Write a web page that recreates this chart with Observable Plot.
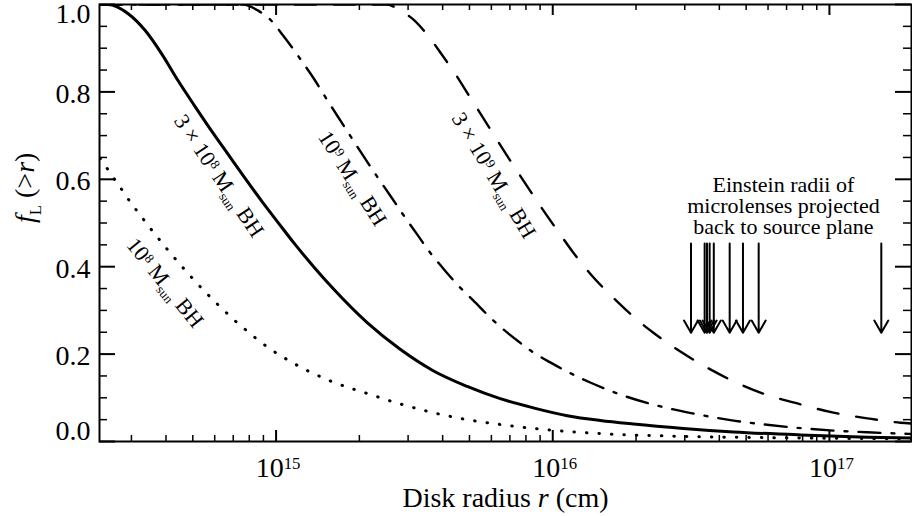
<!DOCTYPE html>
<html><head><meta charset="utf-8">
<script src="https://cdn.jsdelivr.net/npm/d3@7"></script>
<script src="https://cdn.jsdelivr.net/npm/@observablehq/plot@0.6"></script>
<style>body{margin:0;background:#fff;} svg{display:block;}</style>
</head><body><div id="chart"></div>
<script>
// ---- Data (r in cm, f_L(>r)) ----
const r_1e8 = [2.31e14, 2.45e14, 2.62e14, 2.80e14, 3.01e14, 3.22e14, 3.44e14, 3.71e14, 4.04e14, 4.39e14, 4.77e14, 5.18e14, 5.63e14, 6.12e14, 6.71e14, 7.29e14, 7.92e14, 8.61e14, 9.36e14, 1.034e15, 1.143e15, 1.252e15, 1.361e15, 1.607e15, 2.134e15, 2.809e15, 3.697e15, 4.907e15, 6.457e15, 8.503e15, 1.128e16, 1.614e16, 3.416e16, 7.854e16, 1.996e17];
const f_1e8 = [0.648, 0.625, 0.598, 0.572, 0.543, 0.519, 0.495, 0.469, 0.440, 0.413, 0.387, 0.362, 0.338, 0.315, 0.291, 0.270, 0.251, 0.232, 0.215, 0.197, 0.181, 0.167, 0.156, 0.136, 0.110, 0.086, 0.066, 0.050, 0.039, 0.030, 0.023, 0.017, 0.011, 0.008, 0.006];

const r_3e8 = [2.31e14, 2.47e14, 2.92e14, 3.36e14, 3.87e14, 4.42e14, 5.09e14, 5.87e14, 6.71e14, 7.73e14, 8.90e14, 1.017e15, 1.171e15, 1.384e15, 1.607e15, 2.134e15, 2.809e15, 3.697e15, 4.907e15, 6.457e15, 8.503e15, 1.128e16, 1.485e16, 1.955e16, 2.965e16, 4.496e16, 7.854e16, 1.372e17, 1.996e17];
const f_3e8 = [1.0, 1.0, 0.979, 0.941, 0.886, 0.826, 0.767, 0.709, 0.657, 0.602, 0.549, 0.501, 0.451, 0.396, 0.350, 0.272, 0.211, 0.162, 0.126, 0.098, 0.077, 0.059, 0.048, 0.040, 0.030, 0.022, 0.015, 0.010, 0.008];

const r_1e9 = [2.31e14, 7.60e14, 8.61e14, 9.51e14, 1.060e15, 1.221e15, 1.361e15, 1.504e15, 1.662e15, 1.852e15, 2.064e15, 2.319e15, 2.584e15, 2.880e15, 3.235e15, 3.606e15, 4.018e15, 4.552e15, 5.158e15, 6.092e15, 7.441e15, 8.503e15, 9.795e15, 1.128e16, 1.366e16, 1.711e16, 2.388e16, 3.223e16, 4.277e16, 5.630e16, 7.409e16, 1.034e17, 1.372e17, 1.996e17];
const f_1e9 = [1.0, 1.0, 0.986, 0.966, 0.929, 0.876, 0.833, 0.789, 0.746, 0.700, 0.654, 0.606, 0.563, 0.519, 0.474, 0.432, 0.396, 0.357, 0.323, 0.277, 0.231, 0.204, 0.181, 0.160, 0.135, 0.110, 0.082, 0.064, 0.050, 0.040, 0.032, 0.025, 0.021, 0.017];

const r_3e9 = [2.31e14, 2.52e15, 2.809e15, 3.130e15, 3.487e15, 4.018e15, 4.477e15, 5.030e15, 5.559e15, 6.092e15, 6.788e15, 7.629e15, 8.503e15, 9.474e15, 1.064e16, 1.187e16, 1.366e16, 1.711e16, 2.004e16, 2.310e16, 2.892e16, 3.712e16, 4.496e16, 5.630e16, 7.854e16, 1.034e17, 1.372e17, 1.806e17, 1.996e17];
const f_3e9 = [1.0, 1.0, 0.986, 0.966, 0.934, 0.881, 0.838, 0.787, 0.744, 0.704, 0.657, 0.608, 0.563, 0.519, 0.474, 0.432, 0.384, 0.320, 0.280, 0.249, 0.206, 0.165, 0.138, 0.112, 0.085, 0.066, 0.053, 0.043, 0.041];

// Einstein radii of microlenses (arrows)
const einsteinR = [3.16e16, 3.54e16, 3.61e16, 3.69e16, 3.82e16, 4.36e16, 4.87e16, 5.55e16, 1.54e17];
const arrowTop = 0.453, arrowTip = 0.249;

// Curve labels
const curveLabels = ["3 × 10^{8} M_{sun} BH", "10^{8} M_{sun} BH", "10^{9} M_{sun} BH", "3 × 10^{9} M_{sun} BH"];
const labelR = [6.21e14, 3.97e14, 1.889e15, 6.12e15];
const labelF = [0.608, 0.363, 0.602, 0.609];
const labelAngle = [56, 51, 57.5, 59];

const noteText = "Einstein radii of\nmicrolenses projected\nback to source plane";
const noteR = 6.82e16, noteF = 0.538;

// Axes
const xMajor = [1e15, 1e16, 1e17];
const xMajorLabels = ["10^{15}", "10^{16}", "10^{17}"];
const xMinor = [3e14, 4e14, 5e14, 6e14, 7e14, 8e14, 9e14, 2e15, 3e15, 4e15, 5e15, 6e15, 7e15, 8e15, 9e15, 2e16, 3e16, 4e16, 5e16, 6e16, 7e16, 8e16, 9e16];
const yMajor = [0, 0.2, 0.4, 0.6, 0.8, 1.0];
const yMajorLabels = ["0.0", "0.2", "0.4", "0.6", "0.8", "1.0"];
const yMinor = [0.05, 0.1, 0.15, 0.25, 0.3, 0.35, 0.45, 0.5, 0.55, 0.65, 0.7, 0.75, 0.85, 0.9, 0.95];
const xTitle = "Disk radius ~{r} (cm)";
const yTitle = "~{f}_{L} (>~{r})";

const toRows = (rs, fs) => rs.map((r, i) => ({r, f: fs[i]}));

const W = 912, H = 516, mL = 99, mR = 1, mT = 4, mB = 75;
const plotW = W - mL - mR, plotH = H - mT - mB;

const lineOpts = {x: "r", y: "f", stroke: "black", curve: "monotone-x", clip: true};

const yLab = yMajor.map((v, i) => ({v, t: yMajorLabels[i]}));

const chart = Plot.plot({
  width: W, height: H,
  marginLeft: mL, marginRight: mR, marginTop: mT, marginBottom: mB,
  x: {type: "log", domain: [2.3e14, 1.98e17], axis: null},
  y: {domain: [0, 1], axis: null},
  style: {fontFamily: "'Liberation Serif', 'Times New Roman', serif", background: "white", color: "black", overflow: "visible"},
  marks: [
    Plot.line(toRows(r_1e8, f_1e8), {...lineOpts, strokeWidth: 3, strokeDasharray: "0.5,12", strokeLinecap: "round"}),
    Plot.line(toRows(r_3e8, f_3e8), {...lineOpts, strokeWidth: 3}),
    Plot.line(toRows(r_1e9, f_1e9), {...lineOpts, strokeWidth: 2.4, strokeDasharray: "22,11,3,11"}),
    Plot.line(toRows(r_3e9, f_3e9), {...lineOpts, strokeWidth: 2.4, strokeDasharray: "21,18"}),
    Plot.arrow(einsteinR, {x1: d => d, x2: d => d, y1: arrowTop, y2: arrowTip, stroke: "black", strokeWidth: 2, headLength: 10.5, headAngle: 60}),
    Plot.text(curveLabels.map((t, i) => ({t, r: labelR[i], f: labelF[i], a: labelAngle[i]})),
      {x: "r", y: "f", text: "t", rotate: "a", fontSize: 22, fill: "black"}),
    Plot.text([noteText], {x: noteR, y: noteF, text: d => d, fontSize: 22, lineHeight: 0.95, fill: "black"}),
    // frame & ticks
    Plot.frame({stroke: "black", strokeWidth: 2}),
    Plot.ruleX(xMajor, {x: d => d, insetTop: plotH - 11, strokeWidth: 2}),
    Plot.ruleX(xMajor, {x: d => d, insetBottom: plotH - 11, strokeWidth: 2}),
    Plot.ruleX(xMinor, {x: d => d, insetTop: plotH - 6, strokeWidth: 1.5}),
    Plot.ruleX(xMinor, {x: d => d, insetBottom: plotH - 6, strokeWidth: 1.5}),
    Plot.ruleY(yMajor, {y: d => d, insetRight: plotW - 16, strokeWidth: 2}),
    Plot.ruleY(yMajor, {y: d => d, insetLeft: plotW - 16, strokeWidth: 2}),
    Plot.ruleY(yMinor, {y: d => d, insetRight: plotW - 8, strokeWidth: 1.5}),
    Plot.ruleY(yMinor, {y: d => d, insetLeft: plotW - 8, strokeWidth: 1.5}),
    // tick labels
    Plot.text(xMajor.map((v, i) => ({v, t: xMajorLabels[i]})), {x: "v", text: "t", frameAnchor: "bottom", lineAnchor: "bottom", dy: 35, dx: 2, fontSize: 28, fill: "black"}),
    Plot.text(yLab.filter(d => d.v > 0 && d.v < 1), {y: "v", text: "t", frameAnchor: "left", textAnchor: "end", dx: -9, dy: 2, fontSize: 28, fill: "black"}),
    Plot.text(yLab.filter(d => d.v === 1), {y: "v", text: "t", frameAnchor: "left", textAnchor: "end", dx: -9, dy: 10, fontSize: 28, fill: "black"}),
    Plot.text(yLab.filter(d => d.v === 0), {y: "v", text: "t", frameAnchor: "left", textAnchor: "end", dx: -9, dy: -10, fontSize: 28, fill: "black"}),
    // axis titles
    Plot.text([xTitle], {text: d => d, frameAnchor: "bottom", lineAnchor: "bottom", dy: 65, dx: 0, fontSize: 28, fill: "black"}),
    Plot.text([yTitle], {text: d => d, frameAnchor: "left", rotate: -90, dx: -74, fontSize: 28, fill: "black"})
  ]
});

// Rich text: ^{sup}, _{sub}, ~{italic}
function parseRich(s) {
  const out = []; const re = /([\^_~])\{([^}]*)\}/g; let last = 0, m;
  while ((m = re.exec(s))) {
    if (m.index > last) out.push({type: "n", text: s.slice(last, m.index)});
    out.push({type: m[1] === "^" ? "sup" : m[1] === "_" ? "sub" : "it", text: m[2]});
    last = re.lastIndex;
  }
  if (last < s.length) out.push({type: "n", text: s.slice(last)});
  return out;
}
function richify(root) {
  const NS = "http://www.w3.org/2000/svg";
  root.querySelectorAll("text").forEach(t => {
    const tsp = Array.from(t.querySelectorAll("tspan"));
    const targets = tsp.length ? tsp : [t];
    targets.forEach(el => {
      const s = el.textContent;
      if (!/[\^_~]\{/.test(s)) return;
      const segs = parseRich(s);
      el.textContent = "";
      let off = 0;
      for (const seg of segs) {
        const ts = document.createElementNS(NS, "tspan");
        let size = 1, target = 0;
        if (seg.type === "sup") { size = 0.6; target = 0.27; }
        else if (seg.type === "sub") { size = 0.6; target = -0.22; }
        if (seg.type === "it") ts.setAttribute("font-style", "italic");
        if (size !== 1) ts.setAttribute("font-size", (size * 100) + "%");
        const delta = target - off;
        if (Math.abs(delta) > 1e-9) ts.setAttribute("dy", (-delta / size).toFixed(3) + "em");
        off = target;
        ts.textContent = seg.text;
        el.appendChild(ts);
      }
    });
  });
}
richify(chart);
document.getElementById("chart").appendChild(chart);
</script></body></html>
